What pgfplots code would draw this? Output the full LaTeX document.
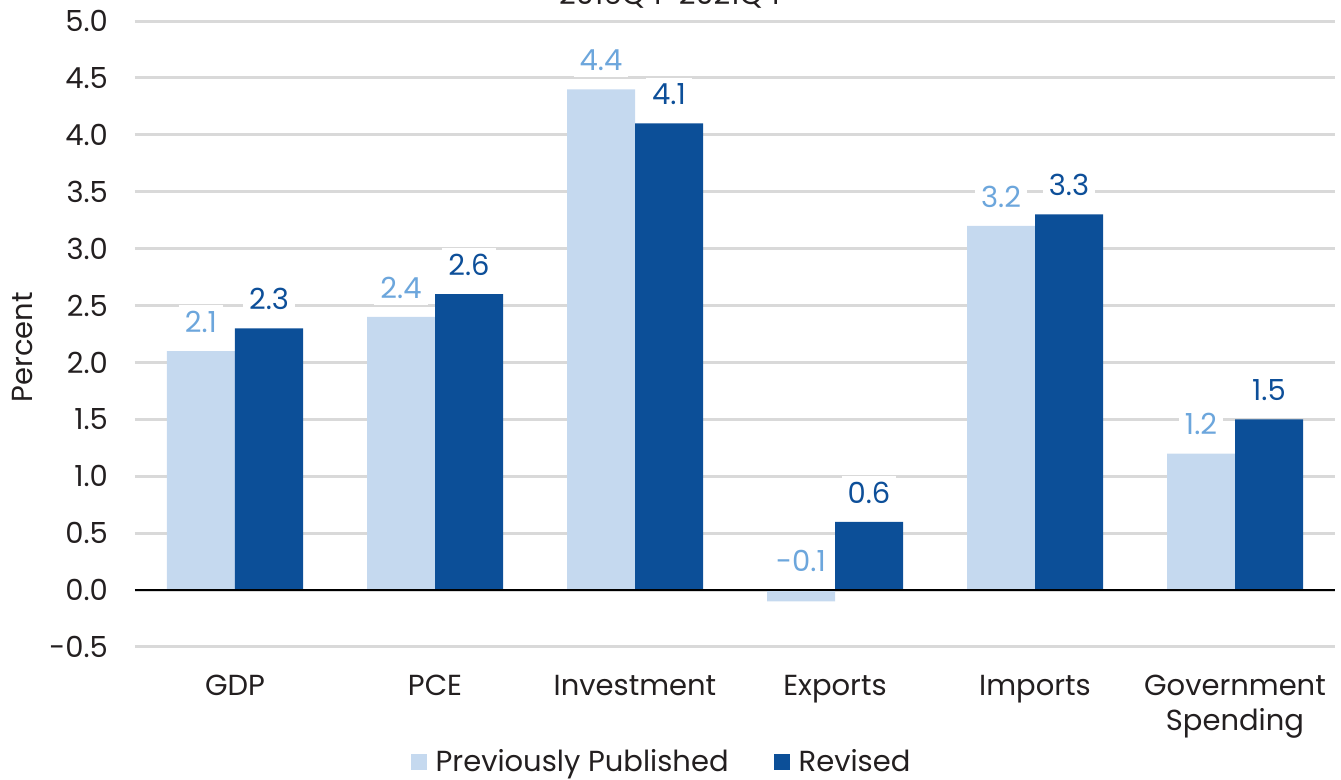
\documentclass[border=0pt]{standalone}
\usepackage{fontspec}
\setmainfont{Poppins}
\usepackage{pgfplots}
\pgfplotsset{compat=1.18}
\definecolor{lightbar}{HTML}{C5D9EF}
\definecolor{darkbar}{HTML}{0C4F98}
\definecolor{lighttext}{HTML}{6CA6DC}
\definecolor{darktext}{HTML}{0D4F99}
\definecolor{gridgray}{HTML}{D9D9D9}
\definecolor{textgray}{HTML}{231F20}
\newcommand{\chartfont}{\fontsize{14.5}{17.5}\selectfont}

\begin{document}
\begin{tikzpicture}
\useasboundingbox (0,0) rectangle (670.5pt,390pt);
\node[anchor=base, font=\chartfont, text=textgray] at (335pt,387.5pt) {2016Q4-2021Q4};
\begin{axis}[
  at={(67.5pt,66.5pt)}, anchor=south west,
  scale only axis, width=600pt, height=313pt,
  xmin=-0.5, xmax=5.5, ymin=-0.5, ymax=5,
  ytick={-0.5,0,0.5,1,1.5,2,2.5,3,3.5,4,4.5,5},
  xtick={0,1,2,3,4,5},
  xticklabels={GDP,PCE,Investment,Exports,Imports,{Government\\Spending}},
  /pgf/number format/fixed, /pgf/number format/fixed zerofill,
  /pgf/number format/precision=1, /pgf/number format/assume math mode=true,
  axis line style={draw=none},
  major tick length=0pt,
  ymajorgrids,
  grid style={line width=1.5pt, gridgray},
  tick label style={font=\chartfont, text=textgray},
  xticklabel style={align=center, yshift=-10.5pt},
  yticklabel style={xshift=-10pt},
  ylabel={Percent},
  ylabel style={font=\chartfont, text=textgray, at={(axis description cs:-0.094,0.479)}, anchor=center},
  legend style={draw=none, font=\chartfont, text=textgray, legend columns=2,
    at={(0.4417,-0.184)}, anchor=center,
    nodes={inner xsep=4.5pt},
    /tikz/every even column/.append style={column sep=18pt}},
  legend image code/.code={\fill[#1] (-2pt,-4pt) rectangle (6pt,4pt);},
  nodes near coords style={font=\chartfont, fill=white, inner sep=3pt, anchor=south, yshift=6pt},
]
\addplot[ybar, bar width=0.34, bar shift=-0.17, fill=lightbar, draw=none] coordinates {
  (0,2.1) (1,2.4) (2,4.4) (3,-0.1) (4,3.2) (5,1.2)
};
\addlegendentry{Previously Published}
\addplot[ybar, bar width=0.34, bar shift=0.17, fill=darkbar, draw=none] coordinates {
  (0,2.3) (1,2.6) (2,4.1) (3,0.6) (4,3.3) (5,1.5)
};
\addlegendentry{Revised}
\addplot[black, line width=1.25pt, forget plot] coordinates {(-0.5,0) (5.5,0)};
\addplot[forget plot, only marks, mark=none, nodes near coords, point meta=explicit symbolic,
  nodes near coords style={text=lighttext}] coordinates {
  (-0.17,2.1) [2.1] (0.83,2.4) [2.4] (1.83,4.4) [4.4] (2.83,0) [-0.1] (3.83,3.2) [3.2] (4.83,1.2) [1.2]
};
\addplot[forget plot, only marks, mark=none, nodes near coords, point meta=explicit symbolic,
  nodes near coords style={text=darktext}] coordinates {
  (0.17,2.3) [2.3] (1.17,2.6) [2.6] (2.17,4.1) [4.1] (3.17,0.6) [0.6] (4.17,3.3) [3.3] (5.17,1.5) [1.5]
};
\end{axis}
\end{tikzpicture}
\end{document}
